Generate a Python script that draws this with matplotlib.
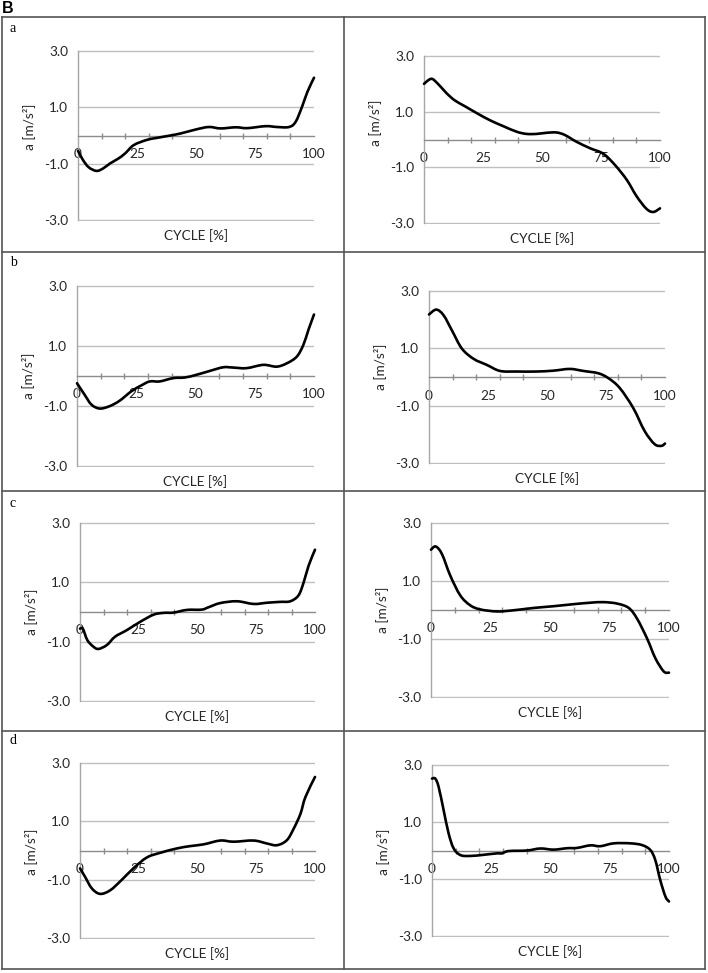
import matplotlib
matplotlib.use("Agg")
import matplotlib.pyplot as plt
from matplotlib.lines import Line2D
from matplotlib.path import Path
from matplotlib.patches import PathPatch
import matplotlib.transforms as mtransforms

# ---------------- data ----------------
x_tick_labels = [0, 25, 50, 75, 100]
y_tick_values = [3.0, 1.0, -1.0, -3.0]
panel_letters = ["a", "b", "c", "d"]
x_label = "CYCLE [%]"
y_label = "a [m/s²]"

a_left_x = [0, 2, 4.5, 7.8, 10.5, 13.7, 17, 20, 23.6, 29, 33, 37.8, 43.4, 49.8, 55.4, 60.4, 66.8, 71.7, 79.5, 84.4, 89.4, 92.2, 95, 97.2, 100]
a_left_y = [-0.54, -0.85, -1.12, -1.25, -1.17, -0.98, -0.82, -0.63, -0.34, -0.16, -0.09, -0.02, 0.07, 0.21, 0.30, 0.25, 0.29, 0.26, 0.33, 0.30, 0.30, 0.48, 1.03, 1.54, 2.04]

a_right_x = [0, 3.1, 5.9, 9.5, 13, 17.3, 22.2, 27.9, 33.5, 39.2, 43.4, 47.7, 51.9, 56.2, 59.7, 64.6, 70.3, 76, 80.9, 85.9, 90.1, 94.3, 97.2, 100]
a_right_y = [1.99, 2.17, 1.99, 1.66, 1.40, 1.19, 0.95, 0.69, 0.48, 0.28, 0.20, 0.20, 0.24, 0.25, 0.16, -0.08, -0.31, -0.51, -0.91, -1.44, -2.03, -2.48, -2.59, -2.46]

b_left_x = [0, 3.2, 6.1, 9.6, 13.8, 18, 22.9, 27.2, 30.7, 34.9, 40.6, 45.5, 50.4, 56.1, 61.7, 65.9, 71.5, 78.6, 84.2, 88.5, 92.7, 95.5, 97.6, 100]
b_left_y = [-0.24, -0.62, -0.95, -1.08, -1.00, -0.82, -0.51, -0.31, -0.18, -0.18, -0.07, -0.05, 0.04, 0.17, 0.29, 0.28, 0.26, 0.37, 0.31, 0.42, 0.64, 1.03, 1.52, 2.04]

b_right_x = [0, 3.1, 6.2, 9.7, 13.9, 18.9, 24.5, 30.1, 37.2, 45.6, 52.7, 59.7, 65.4, 71.7, 76, 80.8, 86.5, 91.4, 95.6, 98.5, 100]
b_right_y = [2.17, 2.34, 2.14, 1.62, 0.99, 0.63, 0.42, 0.21, 0.19, 0.19, 0.22, 0.28, 0.21, 0.13, -0.04, -0.38, -1.07, -1.88, -2.33, -2.39, -2.31]

c_left_x = [0, 1.2, 3.1, 5.5, 7.8, 11.4, 14.9, 19.9, 25.6, 31.3, 35.5, 39.8, 45.5, 51.8, 54.7, 59.7, 66.8, 73.9, 79.5, 85.2, 89.5, 93, 95.2, 97.3, 100]
c_left_y = [-0.56, -0.56, -0.94, -1.15, -1.24, -1.11, -0.83, -0.61, -0.33, -0.09, -0.03, -0.02, 0.07, 0.08, 0.16, 0.30, 0.36, 0.27, 0.31, 0.34, 0.36, 0.56, 1.00, 1.56, 2.09]

c_right_x = [0, 2, 4.6, 8.1, 12.3, 16.5, 20.7, 27.7, 34.7, 43.1, 51.5, 59.9, 66.9, 72.5, 78.2, 83.1, 86.6, 90.8, 94.3, 97.8, 100]
c_right_y = [2.07, 2.18, 1.92, 1.18, 0.50, 0.16, 0.02, -0.05, -0.01, 0.07, 0.13, 0.20, 0.25, 0.27, 0.22, 0.07, -0.30, -0.98, -1.66, -2.11, -2.15]

d_left_x = [0, 2.1, 5, 8.5, 12.8, 17.8, 22.7, 28.4, 34.1, 41.2, 46.9, 52.6, 59.7, 65.3, 73.9, 79.5, 83.8, 88, 90.9, 93.8, 95.9, 100]
d_left_y = [-0.61, -0.89, -1.29, -1.48, -1.36, -1.00, -0.61, -0.24, -0.08, 0.07, 0.15, 0.21, 0.34, 0.30, 0.34, 0.24, 0.18, 0.35, 0.74, 1.25, 1.82, 2.51]

d_right_x = [0, 1.4, 2.8, 4.9, 7, 9.1, 12, 16.2, 21.8, 27.4, 29.5, 32.3, 40.1, 45.7, 51.3, 57, 61.2, 66.8, 71, 76.7, 83.7, 88.6, 92.1, 94.2, 96.3, 98.5, 100]
d_right_y = [2.51, 2.51, 2.22, 1.41, 0.60, 0.08, -0.16, -0.19, -0.15, -0.10, -0.10, -0.02, 0.00, 0.07, 0.03, 0.08, 0.09, 0.18, 0.15, 0.25, 0.25, 0.19, 0.02, -0.33, -1.03, -1.61, -1.78]

series = [
    (a_left_x, a_left_y), (a_right_x, a_right_y),
    (b_left_x, b_left_y), (b_right_x, b_right_y),
    (c_left_x, c_left_y), (c_right_x, c_right_y),
    (d_left_x, d_left_y), (d_right_x, d_right_y),
]

# ---------------- layout ----------------
W, H = 708, 973
fig = plt.figure(figsize=(W / 100, H / 100), dpi=100)
fig.patch.set_facecolor("white")

# plot areas in pixels (left, top, right, bottom)
rects = [
    (78, 50, 314, 221), (424, 55, 660, 224),
    (77, 285, 314, 467), (429, 290, 665, 464),
    (80, 522, 315, 702), (431, 522, 669, 698),
    (80, 762, 315, 939), (432, 764, 669, 937),
]
ylabel_frac = [0.55, 0.60, 0.50, 0.56, 0.50, 0.50, 0.49, 0.49]

FONT = "Lato"
FS = 9.8
TXT = "#262626"
GRID = "#bfbfbf"


def to_fig(l, t, r, b):
    return [l / W, 1 - b / H, (r - l) / W, (b - t) / H]


def smooth_path(xs, ys):
    """Excel-style smoothed line: cubic Bezier segments through the data points."""
    pts = list(zip(xs, ys))
    n = len(pts)
    verts = [pts[0]]
    codes = [Path.MOVETO]
    for i in range(n - 1):
        p0 = pts[i - 1] if i > 0 else pts[i]
        p1 = pts[i]
        p2 = pts[i + 1]
        p3 = pts[i + 2] if i + 2 < n else pts[i + 1]
        c1 = (p1[0] + (p2[0] - p0[0]) / 6, p1[1] + (p2[1] - p0[1]) / 6)
        c2 = (p2[0] - (p3[0] - p1[0]) / 6, p2[1] - (p3[1] - p1[1]) / 6)
        verts += [c1, c2, p2]
        codes += [Path.CURVE4] * 3
    return Path(verts, codes)


for i, ((xs, ys), (l, t, r, b)) in enumerate(zip(series, rects)):
    ax = fig.add_axes(to_fig(l, t, r, b))
    ax.set_facecolor("none")
    patch = PathPatch(smooth_path(xs, ys), facecolor="none", edgecolor="black", lw=1.9,
                      joinstyle="round", capstyle="round", zorder=5, clip_on=False)
    ax.add_patch(patch)
    ax.set_xlim(0, 100)
    ax.set_ylim(-3.02, 3.02)
    for yv in y_tick_values:
        ax.axhline(yv, color=GRID, lw=1.0, zorder=1)
    for s in ["top", "right"]:
        ax.spines[s].set_visible(False)
    ax.spines["left"].set_color("#a6a6a6")
    ax.spines["left"].set_linewidth(1.0)
    ax.spines["left"].set_bounds(-3, 3)
    ax.spines["bottom"].set_position(("data", 0))
    ax.spines["bottom"].set_color("#8c8c8c")
    ax.spines["bottom"].set_linewidth(1.0)

    ax.set_yticks(y_tick_values)
    ax.set_yticklabels([f"{v:.1f}" for v in y_tick_values], fontfamily=FONT, fontsize=FS, color=TXT)
    ax.tick_params(axis="y", length=0, pad=7)

    ax.set_xticks(x_tick_labels)
    ax.set_xticklabels([str(v) for v in x_tick_labels], fontfamily=FONT, fontsize=FS, color=TXT)
    ax.set_xticks(list(range(0, 101, 10)), minor=True)
    ax.tick_params(axis="x", which="major", length=0, pad=9)
    ax.tick_params(axis="x", which="minor", length=5, direction="inout", color="#8c8c8c", width=1.0)

    ax.text(0.5, 0, x_label, transform=ax.transAxes + mtransforms.ScaledTranslation(0, -15 / 100, fig.dpi_scale_trans),
            ha="center", va="center", fontfamily=FONT, fontsize=FS, color=TXT)
    ax.text(0, ylabel_frac[i], y_label, rotation=90,
            transform=ax.transAxes + mtransforms.ScaledTranslation(-49 / 100, 0, fig.dpi_scale_trans),
            ha="center", va="center", fontfamily=FONT, fontsize=FS, color=TXT)

# table borders
BC = "#555555"
xs_b = [2, 344, 705]
ys_b = [17, 252, 491, 731, 969]
for yb in ys_b:
    fig.add_artist(Line2D([xs_b[0] / W, xs_b[-1] / W], [1 - yb / H, 1 - yb / H],
                          transform=fig.transFigure, color=BC, lw=1.2))
for xb in xs_b:
    fig.add_artist(Line2D([xb / W, xb / W], [1 - ys_b[0] / H, 1 - ys_b[-1] / H],
                          transform=fig.transFigure, color=BC, lw=1.2))

fig.text(2 / W, 1 - 1 / H, "B", ha="left", va="top", fontfamily="Liberation Sans",
         fontweight="bold", fontsize=11.5)
letter_y = [28, 263, 503, 741]
for letter, ly in zip(panel_letters, letter_y):
    fig.text(10 / W, 1 - ly / H, letter, ha="left", va="center",
             fontfamily="Liberation Serif", fontsize=10)

fig.savefig("out.png", dpi=100, facecolor="white")
